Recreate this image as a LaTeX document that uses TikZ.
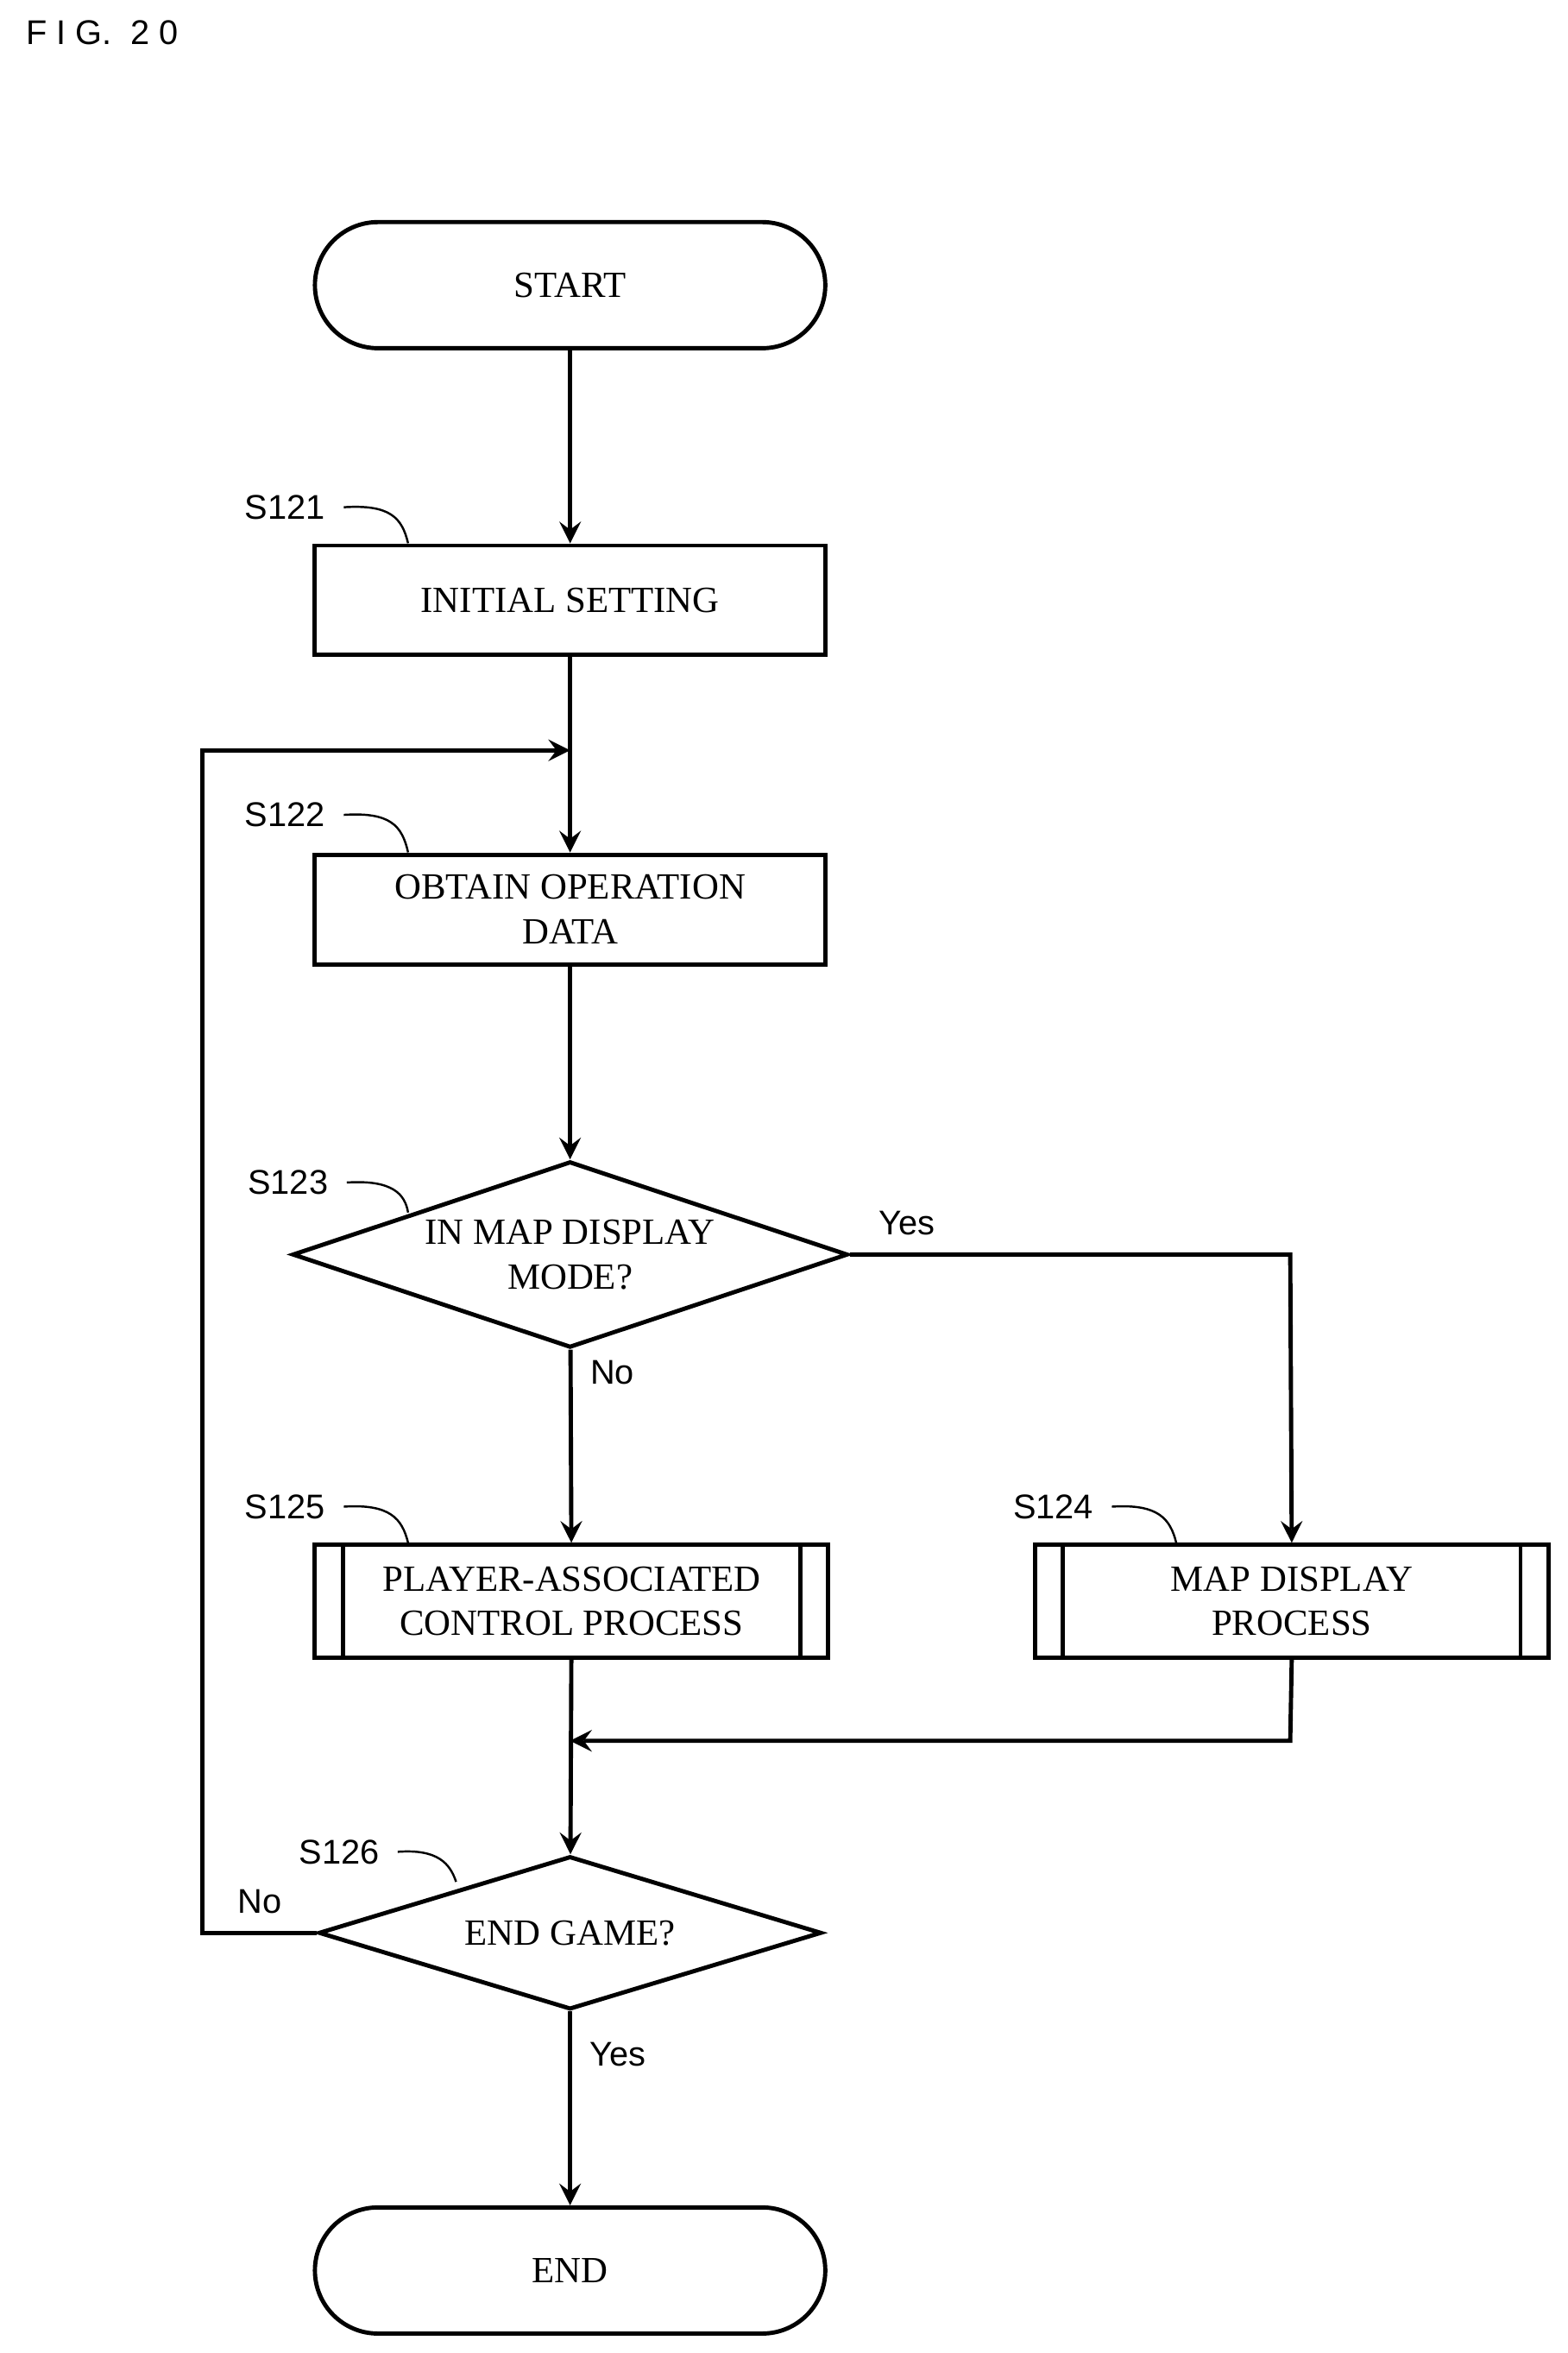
\documentclass[tikz,border=0pt]{standalone}
\usepackage{fontspec}
\setmainfont{Liberation Serif}
\newfontfamily\labelfont{Liberation Sans}
\usetikzlibrary{shapes,arrows}

\begin{document}
\begin{tikzpicture}[x=0.01cm,y=-0.01cm]
    \tikzset{box/.style = {shape=rectangle,draw,thick,minimum width=3.4cm,minimum height=0.73cm,align=center,font=\fontsize{7}{8.5}\selectfont}}
    \tikzset{term/.style = {shape=rectangle,rounded corners=0.42cm,draw,thick,minimum width=3.4cm,minimum height=0.84cm,font=\fontsize{7}{8.5}\selectfont}}
    \tikzset{rombo/.style = {shape=diamond,draw,thick,aspect=3,inner sep=0pt,align=center,font=\fontsize{7}{8.5}\selectfont}}
    \tikzset{etiqueta/.style = {font=\labelfont\fontsize{6.5}{7}\selectfont}}
    \tikzset{flecha/.style = {->,>=stealth,thick}}

    \useasboundingbox (0,0) rectangle (1045,1568);
    \node[etiqueta,anchor=west] (titulo) at (5,22) {F I G.\ \ 2 0};

    \node[term] (inicio) at (380,190) {START};
    \node[box] (s121) at (380,400) {INITIAL SETTING};
    \node[box] (s122) at (380,606) {OBTAIN OPERATION\\DATA};
    \node[rombo,minimum width=3.7cm,minimum height=1.24cm] (s123) at (380,836) {IN MAP DISPLAY\\MODE?};
    \node[box,minimum width=3.42cm,minimum height=0.75cm] (s125) at (381,1067) {PLAYER-ASSOCIATED\\CONTROL PROCESS};
    \node[box,minimum width=3.42cm,minimum height=0.75cm] (s124) at (861,1067) {MAP DISPLAY\\PROCESS};
    \node[rombo,minimum width=3.35cm,minimum height=1.02cm] (s126) at (380,1288) {END GAME?};
    \node[term] (fin) at (380,1513) {END};

    % lineas dobles de subrutina
    \foreach \n in {s124,s125} {
        \draw[thick] ([xshift=0.2cm]\n.north west) -- ([xshift=0.2cm]\n.south west);
        \draw[thick] ([xshift=-0.2cm]\n.north east) -- ([xshift=-0.2cm]\n.south east);
    }

    % etiquetas de pasos
    \node[etiqueta] (l121) at (190,338) {S121};
    \node[etiqueta] (l122) at (190,543) {S122};
    \node[etiqueta] (l123) at (192,788) {S123};
    \node[etiqueta] (l125) at (190,1004) {S125};
    \node[etiqueta] (l124) at (702,1004) {S124};
    \node[etiqueta] (l126) at (226,1234) {S126};
    \draw (l121.east) .. controls (260,336) and (268,345) .. (272,362);
    \draw (l122.east) .. controls (260,541) and (268,550) .. (272,568);
    \draw (l123.east) .. controls (262,786) and (270,796) .. (272,808);
    \draw (l125.east) .. controls (260,1002) and (268,1012) .. (272,1028);
    \draw (l124.east) .. controls (772,1002) and (780,1012) .. (784,1028);
    \draw (l126.east) .. controls (292,1232) and (300,1242) .. (304,1254);

    \coordinate (c1) at (380,500);
    \coordinate (c2) at (380,1160);
    \draw[flecha] (inicio) -- (s121);
    \draw[thick] (s121) -- (c1);
    \draw[flecha] (c1) -- (s122);
    \draw[flecha] (s122) -- (s123);
    \draw[flecha] (s123) -- node[etiqueta,right,pos=0.12] {No} (s125);
    \draw[flecha] (s123.east) -- node[etiqueta,above,pos=0.13] {Yes} (860,836) -- (s124.north);
    \draw[flecha] (s124.south) -- (860,1160) -- (c2);
    \draw[flecha] (s125) -- (s126);
    \draw[flecha] (s126.west) -- node[etiqueta,above,pos=0.5] {No} (135,1288) -- (135,500) -- (c1);
    \draw[flecha] (s126) -- node[etiqueta,right,pos=0.22] {Yes} (fin);
\end{tikzpicture}
\end{document}
